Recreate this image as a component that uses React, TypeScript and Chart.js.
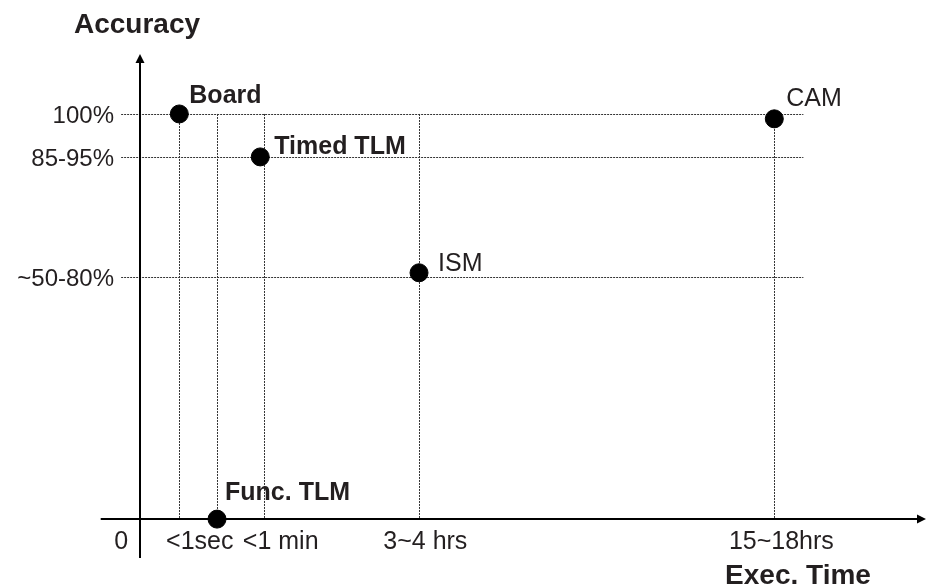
import React, { useEffect, useRef } from 'react';
import { Chart, registerables } from 'chart.js';

Chart.register(...registerables);

// ---- data ----
const pointNames = ['Board', 'Func. TLM', 'Timed TLM', 'ISM', 'CAM'];
const execTime = [5, 9.8, 15.3, 35.5, 80.7];
const accuracy = [100, 0, 89.4, 60.8, 98.8];
const boldNames = [true, true, true, false, false];

const yTickLabels = ['100%', '85-95%', '~50-80%'];
const yTickValues = [100, 89.4, 59.8];

const xGridValues = [5, 9.8, 15.8, 35.5, 80.7];
const xTickLabels = ['0', '<1sec', '<1 min', '3~4 hrs', '15~18hrs'];
const xTickValues = [-2.4, 7.6, 17.9, 36.3, 81.6];

const xAxisTitle = 'Exec. Time';
const yAxisTitle = 'Accuracy';

// ---- styling ----
const labelOffsets = [
  [10, -11],
  [8, -19],
  [14, -3],
  [19, -2],
  [12, -12.5],
];
const FONT = '"Liberation Sans", Arial, Helvetica, sans-serif';
const TEXT = '#231f20';

const decorPlugin = {
  id: 'decor',
  beforeDatasetsDraw(chart: any) {
    const { ctx } = chart;
    const xs = chart.scales.x;
    const ys = chart.scales.y;
    ctx.save();
    // dotted grid
    ctx.strokeStyle = '#333';
    ctx.lineWidth = 1;
    ctx.setLineDash([2, 1]);
    const hx0 = xs.getPixelForValue(-2.4);
    const hx1 = xs.getPixelForValue(84.4);
    yTickValues.forEach((v) => {
      const y = Math.round(ys.getPixelForValue(v)) + 0.5;
      ctx.beginPath();
      ctx.moveTo(hx0, y);
      ctx.lineTo(hx1, y);
      ctx.stroke();
    });
    const vy0 = ys.getPixelForValue(100);
    const vy1 = ys.getPixelForValue(0);
    xGridValues.forEach((v) => {
      const x = Math.round(xs.getPixelForValue(v)) + 0.5;
      ctx.beginPath();
      ctx.moveTo(x, vy0);
      ctx.lineTo(x, vy1);
      ctx.stroke();
    });
    ctx.setLineDash([]);

    // axes
    ctx.strokeStyle = '#000';
    ctx.fillStyle = '#000';
    ctx.lineWidth = 2;
    const y0 = ys.getPixelForValue(0);
    const x0 = xs.getPixelForValue(0);
    const xEnd = xs.getPixelForValue(100);
    const yTop = ys.getPixelForValue(ys.max);
    ctx.beginPath();
    ctx.moveTo(xs.getPixelForValue(-5), y0);
    ctx.lineTo(xEnd - 8, y0);
    ctx.stroke();
    ctx.beginPath();
    ctx.moveTo(xEnd, y0);
    ctx.lineTo(xEnd - 9, y0 - 4.5);
    ctx.lineTo(xEnd - 9, y0 + 4.5);
    ctx.closePath();
    ctx.fill();

    ctx.beginPath();
    ctx.moveTo(x0, ys.getPixelForValue(ys.min));
    ctx.lineTo(x0, yTop + 8);
    ctx.stroke();
    ctx.beginPath();
    ctx.moveTo(x0, yTop);
    ctx.lineTo(x0 - 4.5, yTop + 9);
    ctx.lineTo(x0 + 4.5, yTop + 9);
    ctx.closePath();
    ctx.fill();

    // tick labels
    ctx.fillStyle = TEXT;
    ctx.font = `24px ${FONT}`;
    ctx.textBaseline = 'alphabetic';
    ctx.textAlign = 'right';
    yTickValues.forEach((v, i) => {
      ctx.fillText(yTickLabels[i], 114, ys.getPixelForValue(v) + 9);
    });
    ctx.font = `25px ${FONT}`;
    ctx.textAlign = 'center';
    xTickValues.forEach((v, i) => {
      ctx.fillText(xTickLabels[i], xs.getPixelForValue(v), y0 + 30);
    });

    // axis titles
    ctx.font = `bold 28px ${FONT}`;
    ctx.fillText(yAxisTitle, 137, 33);
    ctx.fillText(xAxisTitle, 798, 584);
    ctx.restore();
  },
  afterDatasetsDraw(chart: any) {
    const { ctx } = chart;
    const xs = chart.scales.x;
    const ys = chart.scales.y;
    ctx.save();
    ctx.fillStyle = TEXT;
    ctx.textAlign = 'left';
    ctx.textBaseline = 'alphabetic';
    pointNames.forEach((name, i) => {
      ctx.font = boldNames[i] ? `bold 25px ${FONT}` : `25px ${FONT}`;
      const px = xs.getPixelForValue(execTime[i]);
      const py = ys.getPixelForValue(accuracy[i]);
      ctx.fillText(name, px + labelOffsets[i][0], py + labelOffsets[i][1]);
    });
    ctx.restore();
  },
};

export default function App() {
  const ref = useRef<HTMLCanvasElement | null>(null);
  useEffect(() => {
    if (!ref.current) return;
    const chart = new Chart(ref.current, {
      type: 'scatter',
      data: {
        datasets: [
          {
            label: 'Models',
            data: execTime.map((x, i) => ({ x, y: accuracy[i] })),
            backgroundColor: '#000',
            borderColor: '#000',
            pointRadius: 9,
            pointHoverRadius: 9,
            clip: false as any,
          },
        ],
      },
      options: {
        responsive: false,
        animation: false,
        events: [],
        layout: { autoPadding: false, padding: { left: 140, right: 1, top: 54, bottom: 30 } },
        plugins: { legend: { display: false }, tooltip: { enabled: false } },
        scales: {
          x: { type: 'linear', min: 0, max: 100, display: false },
          y: { type: 'linear', min: -9.6, max: 114.8, display: false },
        },
      },
      plugins: [decorPlugin],
    });
    return () => chart.destroy();
  }, []);
  return (
    <div style={{ position: 'absolute', left: 0, top: 0, width: 927, height: 588, background: '#fff' }}>
      <canvas ref={ref} width={927} height={588} />
    </div>
  );
}
